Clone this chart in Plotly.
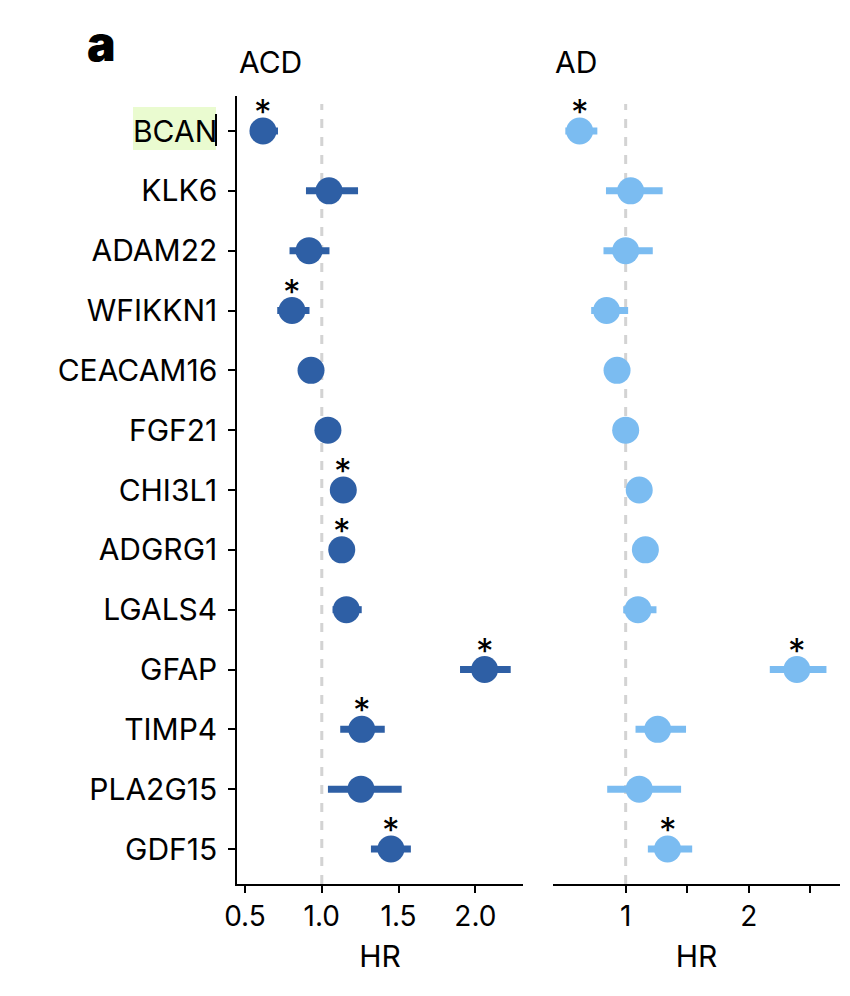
import plotly.graph_objects as go

proteins = ["BCAN", "KLK6", "ADAM22", "WFIKKN1", "CEACAM16", "FGF21", "CHI3L1",
            "ADGRG1", "LGALS4", "GFAP", "TIMP4", "PLA2G15", "GDF15"]

acd_hr = [0.617, 1.047, 0.917, 0.806, 0.93, 1.04, 1.14, 1.13, 1.16, 2.06, 1.26, 1.255, 1.45]
acd_lo = [0.54, 0.897, 0.79, 0.71, 0.87, 0.98, 1.08, 1.07, 1.07, 1.90, 1.12, 1.04, 1.32]
acd_hi = [0.715, 1.236, 1.05, 0.92, 0.99, 1.10, 1.20, 1.19, 1.26, 2.23, 1.41, 1.52, 1.58]
acd_sig = [1, 0, 0, 1, 0, 0, 1, 1, 0, 1, 1, 0, 1]

ad_hr = [0.626, 1.04, 1.0, 0.845, 0.93, 1.0, 1.11, 1.16, 1.10, 2.39, 1.26, 1.11, 1.34]
ad_lo = [0.51, 0.84, 0.82, 0.72, 0.87, 0.95, 1.05, 1.10, 0.98, 2.17, 1.08, 0.85, 1.18]
ad_hi = [0.77, 1.30, 1.22, 1.02, 0.99, 1.05, 1.17, 1.22, 1.25, 2.63, 1.49, 1.45, 1.54]
ad_sig = [1, 0, 0, 0, 0, 0, 0, 0, 0, 1, 0, 0, 1]

acd_ticks = [0.5, 1.0, 1.5, 2.0]
acd_ticktext = ["0.5", "1.0", "1.5", "2.0"]
ad_ticks = [1, 1.5, 2, 2.5]
ad_ticktext = ["1", "", "2", ""]

DARK = "#2e5fa5"
LIGHT = "#7bbcf1"
FONT = "Inter"

ypos = list(range(len(proteins)))

fig = go.Figure()


def add_panel(hr, lo, hi, color, xa, ya):
    fig.add_trace(go.Scatter(
        x=hr, y=ypos, mode="markers", xaxis=xa, yaxis=ya,
        marker=dict(size=27, color=color, line=dict(width=0)),
        error_x=dict(type="data", symmetric=False,
                     array=[h - v for h, v in zip(hi, hr)],
                     arrayminus=[v - l for v, l in zip(hr, lo)],
                     color=color, thickness=7, width=0),
        showlegend=False, hoverinfo="skip"))


add_panel(acd_hr, acd_lo, acd_hi, DARK, "x", "y")
add_panel(ad_hr, ad_lo, ad_hi, LIGHT, "x2", "y2")

annotations = []
for i, s in enumerate(acd_sig):
    if s:
        annotations.append(dict(x=acd_hr[i], y=ypos[i], xref="x", yref="y", text="*",
                                showarrow=False, yshift=19,
                                font=dict(size=35, color="black", family=FONT)))
for i, s in enumerate(ad_sig):
    if s:
        annotations.append(dict(x=ad_hr[i], y=ypos[i], xref="x2", yref="y2", text="*",
                                showarrow=False, yshift=19,
                                font=dict(size=35, color="black", family=FONT)))

annotations += [
    dict(x=0.279, y=1 - 62/996, xref="paper", yref="paper", text="ACD", showarrow=False,
         xanchor="left", yanchor="middle", font=dict(size=30, color="black", family=FONT)),
    dict(x=0.651, y=1 - 62/996, xref="paper", yref="paper", text="AD", showarrow=False,
         xanchor="left", yanchor="middle", font=dict(size=30, color="black", family=FONT)),
    dict(x=85/850, y=1 - 44/996, xref="paper", yref="paper", text="a", showarrow=False,
         xanchor="left", yanchor="middle",
         font=dict(size=48, color="black", family=FONT, weight=900)),
]

shapes = [
    dict(type="rect", xref="paper", yref="paper", x0=133/850, x1=216/850,
         y0=1-150/996, y1=1-107/996, fillcolor="#eafbd0", line=dict(width=0), layer="below"),
    dict(type="line", xref="paper", yref="paper", x0=216/850, x1=216/850,
         y0=1-146/996, y1=1-114/996, line=dict(color="black", width=2)),
    dict(type="line", xref="x", yref="y domain", x0=1, x1=1, y0=0, y1=0.99,
         line=dict(color="#d3d3d3", width=3, dash="dash"), layer="below"),
    dict(type="line", xref="x2", yref="y2 domain", x0=1, x1=1, y0=0, y1=0.99,
         line=dict(color="#d3d3d3", width=3, dash="dash"), layer="below"),
]

ydom = [1 - 884/996, 1 - 96/996]
yrange = [12.585, -0.585]

axis_common = dict(showline=True, linecolor="black", linewidth=1.5,
                   ticks="outside", ticklen=7, tickwidth=1.5, tickcolor="black",
                   showgrid=False, zeroline=False, automargin=False)

fig.update_layout(
    template="none",
    width=850, height=996,
    margin=dict(l=0, r=0, t=0, b=0, pad=0),
    paper_bgcolor="white", plot_bgcolor="white",
    font=dict(family=FONT, color="black"),
    annotations=annotations, shapes=shapes,
    xaxis=dict(domain=[237/850, 523/850], range=[0.448, 2.31],
               tickvals=acd_ticks, ticktext=acd_ticktext,
               tickfont=dict(size=28),
               title=dict(text="HR", font=dict(size=30), standoff=14),
               **axis_common),
    yaxis=dict(domain=ydom, range=yrange, tickvals=ypos, ticktext=proteins,
               tickfont=dict(size=30), ticklabelstandoff=5,
               **axis_common),
    xaxis2=dict(domain=[553/850, 840/850], range=[0.41, 2.74], anchor="y2",
                tickvals=ad_ticks, ticktext=ad_ticktext,
                tickfont=dict(size=28),
                title=dict(text="HR", font=dict(size=30), standoff=14),
                **axis_common),
    yaxis2=dict(domain=ydom, range=yrange, anchor="x2", showline=False,
                showticklabels=False, ticks="", showgrid=False, zeroline=False,
                automargin=False),
)

fig.write_html("out.html")
